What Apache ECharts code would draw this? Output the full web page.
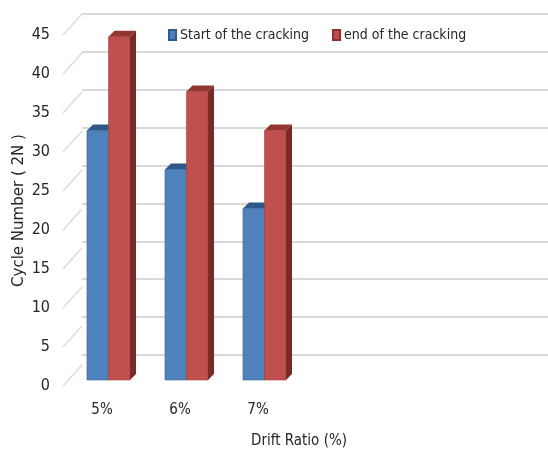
<!DOCTYPE html>
<html>
<head>
<meta charset="utf-8">
<script src="https://cdn.jsdelivr.net/npm/echarts@6/dist/echarts.min.js"></script>
<style>
  html, body { margin: 0; padding: 0; background: #ffffff; }
  #chart { width: 548px; height: 454px; }
</style>
</head>
<body>
<div id="chart"></div>
<script>
// Cycle number at the start and end of cracking for each drift ratio
var categories = ['5%', '6%', '7%'];
var startCracking = [32, 27, 22];
var endCracking = [44, 37, 32];
var yTicks = [0, 5, 10, 15, 20, 25, 30, 35, 40, 45];

var NARROW = "'Liberation Sans Narrow', 'DejaVu Sans Condensed', 'Liberation Sans', sans-serif";

// Depth of the pseudo-3D boxes, in pixels
var DX = 6, DY = 6;

function boxRenderer(side, faces) {
  return function (params, api) {
    var cat = api.value(0);
    var val = api.value(1);
    var base = api.coord([cat, 0]);
    var top = api.coord([cat, val]);
    var band = api.size([1, 0])[0];
    var w = band * 0.276;
    var x0 = side === 0 ? base[0] - w : base[0];
    var x1 = x0 + w;
    var yb = base[1], yt = top[1];
    return {
      type: 'group',
      children: [
        {
          type: 'rect',
          shape: { x: x0, y: yt, width: w, height: yb - yt },
          style: { fill: faces.front, stroke: faces.edge, lineWidth: 0.6 }
        },
        {
          type: 'polygon',
          shape: { points: [[x1, yt], [x1 + DX, yt - DY], [x1 + DX, yb - DY], [x1, yb]] },
          style: { fill: faces.side }
        },
        {
          type: 'polygon',
          shape: { points: [[x0, yt], [x1, yt], [x1 + DX, yt - DY], [x0 + DX, yt - DY]] },
          style: { fill: faces.top }
        }
      ]
    };
  };
}

// Slanted tick connectors between the front scale and the back wall
function connectorRenderer(params, api) {
  var v = api.value(1);
  var p = api.coord([0, v]);
  return {
    type: 'line',
    shape: { x1: 63, y1: p[1], x2: 82, y2: p[1] - 21 },
    style: { stroke: '#d9d9d9', lineWidth: 1.2 }
  };
}

var chart = echarts.init(document.getElementById('chart'));

chart.setOption({
  backgroundColor: '#ffffff',
  animation: false,
  legend: {
    left: 168,
    top: 28,
    padding: 0,
    itemWidth: 7,
    itemHeight: 10,
    itemGap: 23,
    icon: 'rect',
    textStyle: { fontFamily: NARROW, fontSize: 14, color: '#262626', padding: [0, 0, 0, -1] },
    data: ['Start of the cracking', 'end of the cracking']
  },
  grid: [
    // back wall
    { left: 82, top: 14, height: 351, right: 0 },
    // front scale plane
    { left: 63, top: 35, height: 351, width: 234 },
    // bar plane
    { left: 69.5, top: 29, height: 351, width: 234 }
  ],
  xAxis: [
    {
      gridIndex: 0, type: 'category', data: categories,
      axisLine: { show: false }, axisTick: { show: false }, axisLabel: { show: false },
      name: 'Drift Ratio (%)', nameLocation: 'middle', nameGap: 79,
      nameTextStyle: { fontFamily: NARROW, fontSize: 15, color: '#262626', padding: [0, 32, 0, 0] }
    },
    {
      gridIndex: 1, type: 'category', data: categories,
      axisLine: { show: false }, axisTick: { show: false },
      axisLabel: { fontFamily: NARROW, fontSize: 15, color: '#262626', margin: 17 }
    },
    {
      gridIndex: 2, type: 'category', data: categories, show: false
    }
  ],
  yAxis: [
    {
      gridIndex: 0, type: 'value', min: 0, max: 45, interval: 5,
      axisLine: { show: false }, axisTick: { show: false }, axisLabel: { show: false },
      splitLine: { lineStyle: { color: '#d9d9d9', width: 2 } }
    },
    {
      gridIndex: 1, type: 'value', min: 0, max: 45, interval: 5,
      axisLine: { show: false }, axisTick: { show: false }, splitLine: { show: false },
      axisLabel: { fontFamily: NARROW, fontSize: 16, color: '#262626', margin: 13 },
      name: 'Cycle Number ( 2N )', nameLocation: 'middle', nameGap: 36,
      nameTextStyle: { fontFamily: "'DejaVu Sans', sans-serif", fontSize: 15, color: '#262626' }
    },
    {
      gridIndex: 2, type: 'value', min: 0, max: 45, interval: 5, show: false
    }
  ],
  series: [
    {
      type: 'custom',
      xAxisIndex: 1, yAxisIndex: 1,
      renderItem: connectorRenderer,
      silent: true,
      data: yTicks.map(function (t) { return [0, t]; }),
      z: 1
    },
    {
      name: 'Start of the cracking',
      type: 'custom',
      xAxisIndex: 2, yAxisIndex: 2,
      itemStyle: { color: '#4f81bd', borderColor: '#2c5a92', borderWidth: 1 },
      renderItem: boxRenderer(0, { front: '#4f81bd', side: '#2f5c8f', top: '#2f5788', edge: '#3b6aa3' }),
      data: startCracking.map(function (v, i) { return [i, v]; }),
      z: 3
    },
    {
      name: 'end of the cracking',
      type: 'custom',
      xAxisIndex: 2, yAxisIndex: 2,
      itemStyle: { color: '#c0504d', borderColor: '#8c2f2d', borderWidth: 1 },
      renderItem: boxRenderer(1, { front: '#c0504d', side: '#782a28', top: '#933533', edge: '#a9403d' }),
      data: endCracking.map(function (v, i) { return [i, v]; }),
      z: 4
    }
  ]
});
</script>
</body>
</html>
